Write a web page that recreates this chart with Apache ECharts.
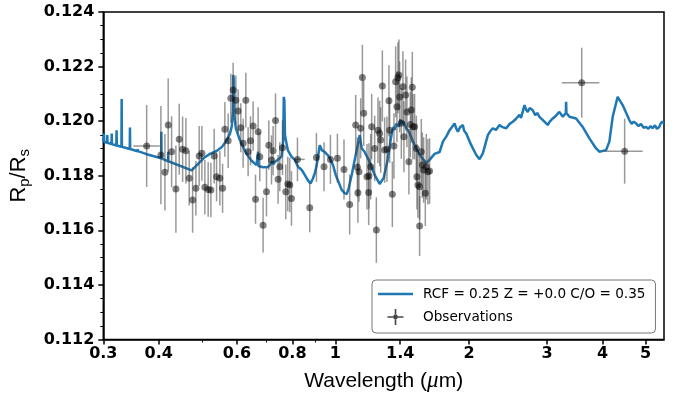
<!DOCTYPE html>
<html><head><meta charset="utf-8">
<script src="https://cdn.jsdelivr.net/npm/echarts@6/dist/echarts.min.js"></script>
<style>html,body{margin:0;padding:0;background:#fff}#c{width:678px;height:398px}</style>
</head><body><div id="c"></div>
<script>
// ---------- data ----------
const xTickLabels = [0.3, 0.4, 0.6, 0.8, 1, 1.4, 2, 3, 4, 5];
const xMinorTicks = [0.5, 0.7, 0.9];
const modelName = 'RCF = 0.25 Z = +0.0 C/O = 0.35';
const obsName = 'Observations';

const modelWl = [
0.300,0.3008,0.3011,0.3014,0.3060,0.3063,0.3066,0.3131,0.3134,0.3137,0.3210,0.3214,0.3218,
0.3296,0.3300,0.3304,0.3441,0.3445,0.3449,0.3581,0.3585,0.3589,0.3757,0.4050,0.4054,0.4058,
0.4197,0.4201,0.4205,0.4743,0.4782,0.4951,0.5081,0.5215,0.5399,0.5549,0.5694,0.5785,0.5844,
0.5879,0.5885,0.5900,0.5916,0.5966,0.6092,0.6307,0.6482,0.6642,0.6690,0.6698,0.6706,0.6756,
0.6873,0.7042,0.7116,0.7200,0.7250,0.7303,0.7456,0.7572,0.7631,0.7651,0.7675,0.7699,0.7759,
0.7812,0.7963,0.8100,0.8240,0.8399,0.8531,0.8665,0.8787,0.8891,0.8985,0.9078,0.9173,0.9220,
0.9317,0.9462,0.9610,0.9710,0.9878,1.0017,1.0190,1.0334,1.0495,1.0605,1.0716,1.0883,1.1053,
1.1227,1.1344,1.1462,1.1641,1.1947,1.2260,1.2582,1.2845,1.3114,1.3320,1.3420,1.3528,1.3600,
1.3700,1.3811,1.3900,1.4000,1.4079,1.4150,1.4250,1.4322,1.4698,1.5083,1.5479,1.6025,1.6301,
1.6729,1.7170,1.7469,1.7800,1.8082,1.8300,1.8556,1.8700,1.8878,1.9100,1.9371,1.9500,1.9718,
2.0235,2.0767,2.1123,2.1490,2.2053,2.2300,2.2632,2.3000,2.3428,2.3800,2.4260,2.4700,2.5104,
2.5500,2.5987,2.6200,2.6669,2.6900,2.7133,2.7400,2.7843,2.8200,2.8500,2.8823,2.9300,2.9600,
3.0090,3.0400,3.0886,3.1400,3.1970,3.2527,3.3050,3.3101,3.3150,3.3671,3.4863,3.6075,3.7350,
3.8673,3.9334,4.0728,4.1425,4.2147,4.3243,4.4385,4.5946,4.6500,4.7000,4.7570,4.8200,4.8800,
4.9500,5.0100,5.0700,5.1300,5.1840,5.2500,5.3000,5.3680,5.4000,5.4430,5.5000];
const modelVal = [
0.11925,0.11924,0.11955,0.11924,0.11921,0.11949,0.11921,0.11916,0.11955,0.11916,0.11911,0.11967,0.11911,
0.11906,0.12081,0.11906,0.11898,0.11977,0.11898,0.11890,0.11898,0.11890,0.11879,0.11864,0.11961,0.11864,
0.11853,0.11888,0.11853,0.11820,0.11815,0.11850,0.11868,0.11880,0.11891,0.11905,0.11931,0.11953,0.11982,
0.12041,0.12169,0.12158,0.12022,0.11975,0.11931,0.11880,0.11854,0.11839,0.11836,0.11888,0.11836,0.11832,
0.11831,0.11832,0.11839,0.11852,0.11842,0.11850,0.11861,0.11872,0.11931,0.12089,0.12077,0.11949,0.11919,
0.11894,0.11870,0.11858,0.11833,0.11821,0.11803,0.11784,0.11772,0.11788,0.11809,0.11839,0.11887,0.11912,
0.11894,0.11887,0.11876,0.11865,0.11839,0.11803,0.11773,0.11748,0.11736,0.11733,0.11755,0.11803,0.11858,
0.11912,0.11949,0.11901,0.11887,0.11851,0.11803,0.11770,0.11792,0.11858,0.11931,0.11962,0.11979,0.11968,
0.11990,0.11993,0.11980,0.12006,0.12004,0.11990,0.11998,0.11986,0.11956,0.11912,0.11876,0.11847,0.11858,
0.11880,0.11887,0.11925,0.11945,0.11967,0.11978,0.11992,0.11975,0.11961,0.11978,0.11986,0.11965,0.11955,
0.11912,0.11876,0.11861,0.11882,0.11949,0.11962,0.11974,0.11968,0.11986,0.11978,0.11974,0.11990,0.11998,
0.12008,0.12023,0.12012,0.12059,0.12042,0.12034,0.12048,0.12040,0.12022,0.12030,0.12016,0.12005,0.12012,
0.11986,0.11998,0.12010,0.12020,0.12034,0.12016,0.12030,0.12071,0.12030,0.12016,0.12010,0.11979,0.11937,
0.11900,0.11888,0.11894,0.11925,0.12016,0.12089,0.12059,0.12004,0.11990,0.11998,0.11992,0.11982,0.11990,
0.11976,0.11979,0.11972,0.11982,0.11974,0.11985,0.11972,0.11979,0.11990,0.11998,0.11992];

const obsWl = [
0.3757,0.4045,0.4130,0.4201,0.4276,0.4372,0.4448,0.4527,0.4605,0.4684,0.4768,0.4850,0.4933,0.5003,
0.5081,0.5169,0.5242,0.5332,0.5399,0.5492,0.5570,0.5636,0.5734,0.5814,0.5884,0.5967,0.6038,0.6123,
0.6197,0.6284,0.6359,0.6439,0.6526,0.6608,0.6698,0.6757,0.6873,0.6995,0.7079,0.7179,0.7239,0.7330,
0.7429,0.7494,0.7600,0.7731,0.7812,0.7893,0.7963,0.8214,0.8755,0.9064,0.9428,0.9746,1.0106,
1.0457,1.0770,1.1111,1.1209,1.1302,1.1240,1.1402,1.1503,1.1582,1.1781,1.1903,1.2009,1.2071,1.1885,
1.2260,1.2369,1.2472,1.2582,1.2648,1.2759,1.2912,1.3067,1.3203,1.3251,1.3438,1.3550,1.3670,1.3761,
1.3833,1.3905,1.3955,1.4079,1.4196,1.4270,1.4396,1.4493,1.4644,1.4750,1.4827,1.4905,1.4951,1.5083,
1.5216,1.5264,1.5343,1.5479,1.5479,1.5616,1.5697,1.5804,1.5944,1.6025,1.6159,1.6302,
3.589,4.484];
const obsVal = [
0.11909,0.11876,0.11813,0.11986,0.11888,0.11751,0.11934,0.11897,0.11892,0.11791,0.11711,0.11754,0.11872,0.11882,
0.11758,0.11750,0.11748,0.11872,0.11796,0.11791,0.11754,0.11970,0.11928,0.12084,0.12114,0.12077,0.12037,0.11976,
0.11919,0.12077,0.11888,0.11928,0.11982,0.11714,0.11961,0.11870,0.11619,0.11741,0.11912,0.11858,0.11892,0.12002,
0.11787,0.11833,0.11903,0.11741,0.11770,0.11766,0.11717,0.11860,0.11683,0.11867,0.11833,0.11860,0.11864,
0.11823,0.11695,0.11986,0.11831,0.11815,0.11738,0.11974,0.12160,0.12029,0.11796,0.11799,0.11833,0.11980,0.11739,
0.11900,0.11601,0.11967,0.11955,0.11931,0.12129,0.11894,0.11897,0.12075,0.11967,0.11732,0.11909,0.12144,0.12053,
0.12159,0.12169,0.12089,0.11992,0.12126,0.11943,0.12096,0.12034,0.11851,0.11988,0.12041,0.12124,0.11980,0.11980,
0.11900,0.11796,0.11766,0.11760,0.11616,0.11888,0.11839,0.11821,0.11736,0.11833,0.11815,0.11817,
0.12141,0.11890];
const obsErr = [
0.0015,0.0018,0.0014,0.0017,0.0013,0.0016,0.0013,0.0012,0.0012,0.0010,0.0012,0.0010,0.0011,0.0010,
0.0010,0.0010,0.0010,0.0010,0.0009,0.0010,0.0009,0.0010,0.0010,0.0009,0.0010,0.0009,0.0008,0.0009,
0.0009,0.0010,0.0009,0.0009,0.0009,0.0009,0.0009,0.0009,0.0010,0.0009,0.0009,0.0009,0.0009,0.0010,
0.0009,0.0009,0.0010,0.0010,0.0010,0.0010,0.0010,0.0008,0.0009,0.0009,0.0009,0.0009,0.0009,
0.0011,0.0011,0.0011,0.0011,0.0011,0.0011,0.0011,0.0012,0.0012,0.0012,0.0012,0.0012,0.0012,0.0012,
0.0012,0.0012,0.0012,0.0012,0.0012,0.0013,0.0012,0.0012,0.0013,0.0012,0.0012,0.0012,0.0013,0.0013,
0.0013,0.0013,0.0013,0.0013,0.0013,0.0013,0.0013,0.0013,0.0012,0.0012,0.0012,0.0013,0.0012,0.0012,
0.0012,0.0012,0.0012,0.0012,0.0011,0.0012,0.0012,0.0012,0.0012,0.0012,0.0012,0.0012,
0.00128,0.00119];
// horizontal error bars: index into obs arrays, lower and upper wavelength
const obsXErrIdx = [0, 49, 109, 110];
const obsXErrLo = [0.3505, 0.8100, 3.236, 4.037];
const obsXErrHi = [0.4025, 0.8531, 3.933, 4.923];

// ---------- chart ----------
const L = Math.log10;
const lineData = modelWl.map((w, i) => [L(w), modelVal[i]]);
const obsData = obsWl.map((w, i) => [L(w), obsVal[i]]);
const errData = obsWl.map((w, i) => {
  const k = obsXErrIdx.indexOf(i);
  return [L(w), obsVal[i], obsErr[i], k >= 0 ? L(obsXErrLo[k]) : NaN, k >= 0 ? L(obsXErrHi[k]) : NaN];
});
const xMin = L(0.3), xMax = L(5.5);
function xLabel(v) {
  for (const t of xTickLabels) if (Math.abs(L(t) - v) < 1e-6) return String(t);
  return '';
}
const barColor = 'rgba(70,70,70,0.55)';
const chart = echarts.init(document.getElementById('c'), null, {renderer: 'canvas'});
chart.setOption({
  animation: false,
  backgroundColor: '#fff',
  grid: {left: 103.3, right: 14, top: 12, bottom: 58.5, show: true, borderColor: '#000', borderWidth: 1.5, containLabel: false, outerBoundsMode: 'none'},
  xAxis: [{
    type: 'value', min: xMin, max: xMax, position: 'bottom',
    name: '{a|Wavelength (}{m|μ}{a|m)}', nameLocation: 'middle', nameGap: 30,
    nameTextStyle: {rich: {
      a: {fontFamily: 'Liberation Sans', fontSize: 21, color: '#000'},
      m: {fontFamily: 'Liberation Serif', fontStyle: 'italic', fontSize: 23, color: '#000'}
    }},
    axisLine: {show: true, onZero: false, lineStyle: {color: '#000', width: 1.5}},
    axisTick: {show: true, length: 5, lineStyle: {color: '#000', width: 1.5}, customValues: xTickLabels.map(L)},
    axisLabel: {show: true, margin: 6, customValues: xTickLabels.map(L), formatter: xLabel,
      fontFamily: 'DejaVu Sans', fontWeight: 'bold', fontSize: 16, color: '#000'},
    splitLine: {show: false}
  }, {
    type: 'value', min: xMin, max: xMax, position: 'bottom', offset: 0,
    axisLine: {show: false, onZero: false},
    axisTick: {show: true, length: 3, lineStyle: {color: '#000', width: 1}, customValues: xMinorTicks.map(L)},
    axisLabel: {show: false, customValues: xMinorTicks.map(L)},
    splitLine: {show: false}
  }],
  yAxis: {
    type: 'value', min: 0.112, max: 0.124, interval: 0.002, position: 'left',
    name: '{a|R}{s|p}{a|/R}{s|s}', nameLocation: 'middle', nameGap: 62, nameRotate: 90,
    nameTextStyle: {rich: {
      a: {fontFamily: 'Liberation Sans', fontSize: 22, color: '#000', lineHeight: 28, verticalAlign: 'middle'},
      s: {fontFamily: 'Liberation Sans', fontSize: 15, color: '#000', lineHeight: 15, verticalAlign: 'bottom'}
    }},
    axisLine: {show: true, onZero: false, lineStyle: {color: '#000', width: 1.5}},
    axisTick: {show: true, length: 5, lineStyle: {color: '#000', width: 1.5}},
    minorTick: {show: true, splitNumber: 4, length: 3, lineStyle: {color: '#000', width: 1}},
    axisLabel: {margin: 9, fontFamily: 'DejaVu Sans', fontWeight: 'bold', fontSize: 16, color: '#000',
      formatter: v => v.toFixed(3)},
    splitLine: {show: false}
  },
  legend: {
    left: 372, top: 280, orient: 'vertical',
    itemWidth: 35, itemHeight: 16, itemGap: 8,
    padding: [7, 10, 8, 6],
    backgroundColor: '#fff', borderColor: '#777', borderWidth: 1, borderRadius: 4,
    textStyle: {fontFamily: 'DejaVu Sans', fontSize: 13.6, color: '#000', padding: [0, 0, 0, 5]},
    data: [
      {name: modelName, icon: 'path://M0,0H35V2.5H0Z', itemStyle: {color: '#1f77b4'}},
      {name: obsName, icon: 'path://M0,9H7.2V11H0Z M12.8,9H20V11H12.8Z M9,0H11V7.2H9Z M9,12.8H11V20H9Z M7,10A3,3 0 1 0 13,10A3,3 0 1 0 7,10Z',
       itemStyle: {color: '#444'}}
    ]
  },
  series: [{
    name: modelName, type: 'line', data: lineData, showSymbol: false, symbol: 'none',
    lineStyle: {color: '#1f77b4', width: 2.5}, itemStyle: {color: '#1f77b4'}, z: 2, silent: true
  }, {
    name: obsName, type: 'custom', data: errData, encode: {x: 0, y: 1}, z: 3, silent: true,
    renderItem: function (params, api) {
      const x = api.value(0), y = api.value(1), e = api.value(2);
      const p1 = api.coord([x, y + e]), p2 = api.coord([x, y - e]);
      const children = [{type: 'line', shape: {x1: p1[0], y1: p1[1], x2: p2[0], y2: p2[1]},
        style: {stroke: barColor, lineWidth: 1.5}}];
      const lo = api.value(3), hi = api.value(4);
      if (!isNaN(lo) && !isNaN(hi)) {
        const q1 = api.coord([lo, y]), q2 = api.coord([hi, y]);
        children.push({type: 'line', shape: {x1: q1[0], y1: q1[1], x2: q2[0], y2: q2[1]},
          style: {stroke: barColor, lineWidth: 1.5}});
      }
      return {type: 'group', children: children};
    }
  }, {
    name: obsName, type: 'scatter', data: obsData, symbol: 'circle', symbolSize: 7,
    itemStyle: {color: 'rgba(0,0,0,0.62)'}, z: 4, silent: true
  }]
});
</script></body></html>
